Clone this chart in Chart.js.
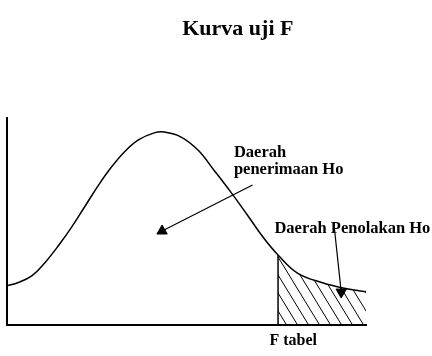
<!DOCTYPE html>
<html>
<head>
<meta charset="utf-8">
<script src="https://cdn.jsdelivr.net/npm/chart.js@4"></script>
<style>
  html, body { margin: 0; padding: 0; background: #fff; }
  #wrap { width: 432px; height: 356px; }
</style>
</head>
<body>
<div id="wrap"><canvas id="fChart"></canvas></div>
<script>
// F curve (x: 0..10, y: 0..1)
const curveX = [0, 0.28, 0.69, 1.05, 1.44, 1.8, 2.16, 2.55, 2.91, 3.27, 3.66, 4.1, 4.38, 4.85, 5.32, 5.76, 6.23, 6.7, 7.15, 7.55, 8.09, 8.81, 9.36, 10];
const curveY = [0.19, 0.203, 0.237, 0.3, 0.385, 0.473, 0.57, 0.676, 0.763, 0.836, 0.894, 0.928, 0.932, 0.908, 0.845, 0.749, 0.643, 0.53, 0.42, 0.338, 0.251, 0.203, 0.179, 0.16];
const fTabel = 7.55;

// arrows: [start, head]
const arrowAcceptX = [6.84, 4.32];
const arrowAcceptY = [0.676, 0.454];
const arrowRejectX = [9.11, 9.31];
const arrowRejectY = [0.483, 0.159];

const labelTexts = ['Kurva uji F', 'Daerah', 'penerimaan Ho', 'Daerah Penolakan Ho', 'F tabel'];

const serif = '"Liberation Serif", "Times New Roman", serif';
const notes = [
  { x: 6.43, y: 1.401, font: 'bold 22px ' + serif, align: 'center' },
  { x: 6.32, y: 0.812, font: 'bold 16.5px ' + serif, align: 'left' },
  { x: 6.32, y: 0.729, font: 'bold 16.5px ' + serif, align: 'left' },
  { x: 7.45, y: 0.444, font: 'bold 16.5px ' + serif, align: 'left' },
  { x: 7.31, y: -0.097, font: 'bold 16px ' + serif, align: 'left' },
];

const toPoints = (xs, ys) => xs.map((v, i) => ({ x: v, y: ys[i] }));
const curve = toPoints(curveX, curveY);
const tail = curve.filter((p) => p.x >= fTabel);
const yAtF = curveY[curveX.indexOf(fTabel)];

const makeHatch = () => {
  const c = document.createElement('canvas');
  const w = 11, h = 18;
  c.width = w;
  c.height = h;
  const g = c.getContext('2d');
  g.strokeStyle = '#000';
  g.lineWidth = 1;
  g.beginPath();
  [-w, 0, w].forEach((k) => {
    g.moveTo(k, 0);
    g.lineTo(k + w, h);
  });
  g.stroke();
  return g.createPattern(c, 'repeat');
};

const textPlugin = {
  id: 'notes',
  afterDraw(chart) {
    const { ctx, scales: { x, y } } = chart;
    ctx.save();
    ctx.fillStyle = '#000';
    ctx.textBaseline = 'alphabetic';
    notes.forEach((n, i) => {
      ctx.font = n.font;
      ctx.textAlign = n.align;
      ctx.fillText(labelTexts[i], x.getPixelForValue(n.x), y.getPixelForValue(n.y));
    });
    ctx.restore();
  },
};

const arrow = (pts, headRotation) => ({
  data: pts,
  borderColor: '#000',
  borderWidth: 1.2,
  tension: 0,
  pointStyle: 'triangle',
  pointRadius: [0, 6],
  pointRotation: [0, headRotation],
  pointBackgroundColor: '#000',
  pointBorderColor: '#000',
  pointBorderWidth: 1,
  fill: false,
});

const axis = (max) => ({
  type: 'linear',
  min: 0,
  max: max,
  ticks: { display: false },
  grid: { display: false, drawTicks: false },
  border: { display: true, color: '#000', width: 2 },
});

const ctx = document.getElementById('fChart').getContext('2d');
new Chart(ctx, {
  type: 'line',
  data: {
    datasets: [
      {
        data: curve,
        borderColor: '#000',
        borderWidth: 1.5,
        pointRadius: 0,
        tension: 0.4,
        fill: false,
      },
      {
        data: tail,
        borderColor: 'rgba(0,0,0,0)',
        pointRadius: 0,
        tension: 0.4,
        fill: 'origin',
        backgroundColor: makeHatch(),
      },
      {
        data: [{ x: fTabel, y: 0 }, { x: fTabel, y: yAtF }],
        borderColor: '#000',
        borderWidth: 1.5,
        tension: 0,
        pointRadius: 0,
        fill: false,
      },
      arrow(toPoints(arrowAcceptX, arrowAcceptY), 0),
      arrow(toPoints(arrowRejectX, arrowRejectY), 180),
    ],
  },
  options: {
    responsive: true,
    maintainAspectRatio: false,
    animation: false,
    layout: { padding: { left: 5, right: 66, top: 118, bottom: 31 } },
    plugins: {
      legend: { display: false },
      tooltip: { enabled: false },
    },
    scales: {
      x: axis(10),
      y: axis(1),
    },
  },
  plugins: [textPlugin],
});
</script>
</body>
</html>
